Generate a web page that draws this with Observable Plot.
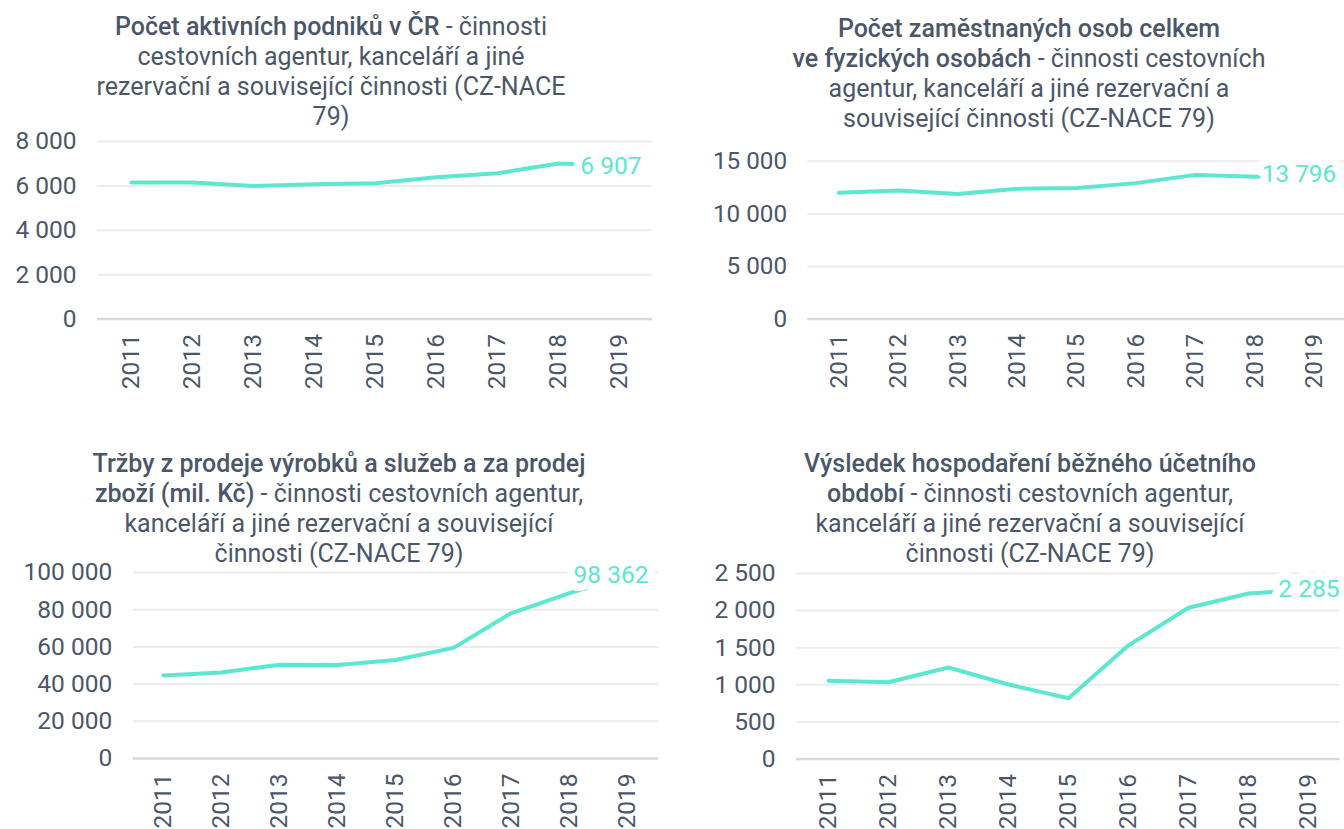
<!DOCTYPE html>
<html>
<head>
<meta charset="utf-8">
<script src="https://cdn.jsdelivr.net/npm/d3@7"></script>
<script src="https://cdn.jsdelivr.net/npm/@observablehq/plot@0.6"></script>
<style>
  html, body { margin: 0; padding: 0; background: #ffffff; }
  #root { position: relative; width: 1344px; height: 829px; overflow: hidden; background: #fff; }
  .title { position: absolute; width: 700px; text-align: center; font-family: Roboto, "Liberation Sans", sans-serif;
           font-size: 25px; line-height: 30px; color: #4b5769; white-space: nowrap; }
  .title b { font-weight: 500; }
  .chart { position: absolute; }
  .chart svg { overflow: visible; }
</style>
</head>
<body>
<div id="root"></div>
<script>
// ---- data ----
const years = ["2011", "2012", "2013", "2014", "2015", "2016", "2017", "2018", "2019"];

const podniky      = [6155, 6150, 5995, 6075, 6120, 6390, 6570, 7008, 6907];
const zamestnanci  = [12020, 12233, 11887, 12390, 12453, 12925, 13711, 13540, 13796];
const trzby        = [44600, 46280, 50410, 50230, 52930, 59460, 78200, 88900, 98362];
const vysledek     = [1055, 1036, 1234, 1005, 820, 1532, 2038, 2231, 2285];

const ticksPodniky     = [0, 2000, 4000, 6000, 8000];
const ticksZamestnanci = [0, 5000, 10000, 15000];
const ticksTrzby       = [0, 20000, 40000, 60000, 80000, 100000];
const ticksVysledek    = [0, 500, 1000, 1500, 2000, 2500];

const titlePodniky = [
  [["Počet aktivních podniků v ČR", true], [" - činnosti", false]],
  [["cestovních agentur, kanceláří a jiné", false]],
  [["rezervační a související činnosti (CZ-NACE", false]],
  [["79)", false]]
];
const titleZamestnanci = [
  [["Počet zaměstnaných osob celkem", true]],
  [["ve fyzických osobách", true], [" - činnosti cestovních", false]],
  [["agentur, kanceláří a jiné rezervační a", false]],
  [["související činnosti (CZ-NACE 79)", false]]
];
const titleTrzby = [
  [["Tržby z prodeje výrobků a služeb a za prodej", true]],
  [["zboží (mil. Kč)", true], [" - činnosti cestovních agentur,", false]],
  [["kanceláří a jiné rezervační a související", false]],
  [["činnosti (CZ-NACE 79)", false]]
];
const titleVysledek = [
  [["Výsledek hospodaření běžného účetního", true]],
  [["období", true], [" - činnosti cestovních agentur,", false]],
  [["kanceláří a jiné rezervační a související", false]],
  [["činnosti (CZ-NACE 79)", false]]
];

// ---- styling / layout ----
const lineColor = "#5de6d0";
const textColor = "#4b5769";
const fmt = d3.formatLocale({decimal: ",", thousands: "\u00a0", grouping: [3], currency: ["", " Kč"]}).format(",d");

const panels = [
  {values: podniky, ticks: ticksPodniky, title: titlePodniky, col: 0,
   frame: {left: 97, right: 652, top: 140.7, bottom: 318.3}, titleCx: 331, titleTop: 12, labelDx: 22},
  {values: zamestnanci, ticks: ticksZamestnanci, title: titleZamestnanci, col: 672,
   frame: {left: 808.7, right: 1350.5, top: 160.7, bottom: 320}, titleCx: 1029, titleTop: 14, labelDx: 22},
  {values: trzby, ticks: ticksTrzby, title: titleTrzby, col: 0,
   frame: {left: 132.7, right: 658.3, top: 572.3, bottom: 758.3}, titleCx: 339, titleTop: 449, labelDx: 21},
  {values: vysledek, ticks: ticksVysledek, title: titleVysledek, col: 672,
   frame: {left: 796, right: 1339.5, top: 572.7, bottom: 758.3}, titleCx: 1030, titleTop: 449, labelDx: 31}
];

const root = document.getElementById("root");

for (const p of panels) {
  // title
  const t = document.createElement("div");
  t.className = "title";
  t.style.left = (p.titleCx - 350) + "px";
  t.style.top = p.titleTop + "px";
  t.innerHTML = p.title.map(line => line.map(([s, b]) => b ? `<b>${s}</b>` : `<span>${s}</span>`).join("")).join("<br>");
  root.appendChild(t);

  // chart
  const mTop = 20, mBottom = 90;
  const data = years.map((y, i) => ({year: y, value: p.values[i]}));
  const last = data[data.length - 1];
  const plot = Plot.plot({
    width: p.frame.right - p.col,
    height: (p.frame.bottom - p.frame.top) + mTop + mBottom,
    marginLeft: p.frame.left - p.col,
    marginRight: 0,
    marginTop: mTop,
    marginBottom: mBottom,
    style: {fontFamily: "Roboto, 'Liberation Sans', sans-serif", fontSize: "24.5px", color: textColor, background: "transparent", overflow: "visible"},
    x: {type: "point", domain: years, padding: 0.5, label: null, tickSize: 0, tickPadding: 15, tickRotate: -90},
    y: {domain: [0, d3.max(p.ticks)], ticks: p.ticks, tickFormat: fmt, tickSize: 0, tickPadding: 21, label: null},
    marks: [
      Plot.ruleY(p.ticks.filter(v => v > 0), {stroke: "#ececec", strokeWidth: 2}),
      Plot.ruleY([0], {stroke: "#d9d9d9", strokeWidth: 2.5}),
      Plot.line(data, {x: "year", y: "value", stroke: lineColor, strokeWidth: 4, strokeLinejoin: "round"}),
      Plot.text([last], {x: "year", y: "value", text: d => fmt(d.value), textAnchor: "end", dx: p.labelDx,
        fill: lineColor, stroke: "white", strokeWidth: 16, strokeLinejoin: "round", paintOrder: "stroke", fontSize: 24.5})
    ]
  });
  const wrap = document.createElement("div");
  wrap.className = "chart";
  wrap.style.left = p.col + "px";
  wrap.style.top = (p.frame.top - mTop) + "px";
  wrap.appendChild(plot);
  root.appendChild(wrap);
}
</script>
</body>
</html>
